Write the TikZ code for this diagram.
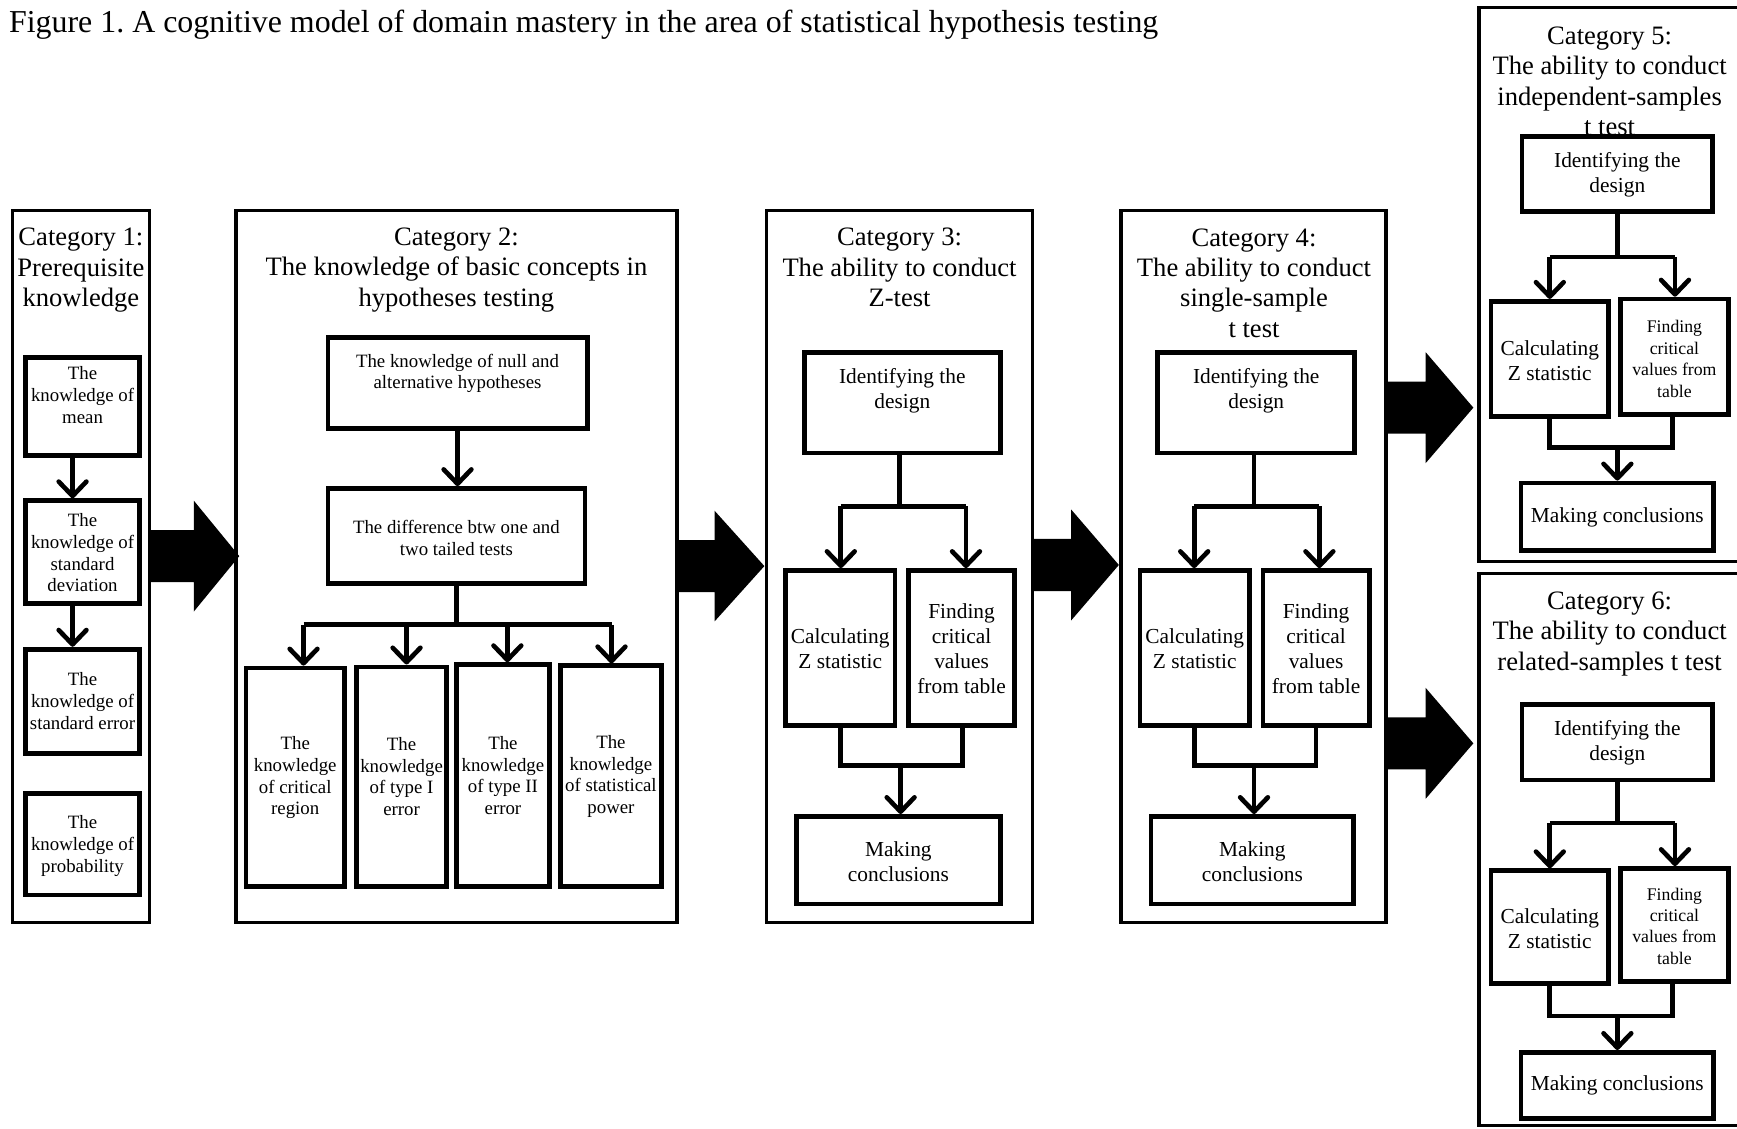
\documentclass[tikz,border=0pt]{standalone}
\usepackage{fontspec}
\setmainfont{Liberation Serif}
\usetikzlibrary{arrows.meta,calc}
\frenchspacing

\newcommand\fT{\fontsize{28.8}{32}\selectfont}
\newcommand\fH{\fontsize{24}{27.5}\selectfont}
\newcommand\fS{\fontsize{17}{19.6}\selectfont}
\newcommand\fM{\fontsize{19.3}{22.7}\selectfont}
\newcommand\fF{\fontsize{16}{19.3}\selectfont}

% outer box: name x1 y1 x2 y2
\newcommand\obox[5]{%
  \node[outbox, minimum width={(#4-#2)*1pt}, minimum height={(#5-#3)*1pt}] (#1) at ({(#2+#4)/2},{(#3+#5)/2}) {};}
% inner box: name x1 y1 x2 y2 texty font text
\newcommand\ibox[8]{%
  \node[inbox, minimum width={(#4-#2)*1pt}, minimum height={(#5-#3)*1pt}] (#1) at ({(#2+#4)/2},{(#3+#5)/2}) {};
  \node[txt, font=#7] (#1t) at ({(#2+#4)/2},{#6}) {#8};}
% block arrow: x0 xb xt yc
\newcommand\barr[4]{%
  \fill ({#1},{#4-23.5}) -- ({#2},{#4-23.5}) -- ({#2},{#4-50}) -- ({#3},{#4}) -- ({#2},{#4+50}) -- ({#2},{#4+23.5}) -- ({#1},{#4+23.5}) -- cycle;}

\begin{document}
\begin{tikzpicture}[x=1pt,y=-1pt,
  outbox/.style={draw, line width=3pt, inner sep=0pt, outer sep=0pt},
  inbox/.style={draw, line width=4.3pt, fill=white, inner sep=0pt},
  txt/.style={align=center, inner sep=0pt},
  conn/.style={line width=4.2pt},
  arr/.style={line width=4.2pt, -{Straight Barb[length=13pt,width=25pt,round]}},
]
\useasboundingbox (0,0) rectangle (1568,1019);
\fill[white] (0,0) rectangle (1568,1019);
\clip (0,0) rectangle (1568,1019);

% title
\node[inner sep=0pt, anchor=base west, font=\fT] (title) at (8,29) {Figure 1. A cognitive model of domain mastery in the area of statistical hypothesis testing};

% ---------- Category 1 ----------
\obox{c1}{11}{190}{135}{833}
\node[txt, font=\fH] (c1h) at (73,244) {Category 1:\\Prerequisite\\knowledge};
\ibox{m1}{23}{323}{126}{411}{356.5}{\fS}{The\\knowledge of\\mean}
\ibox{m2}{23}{452}{126}{545}{499}{\fS}{The\\knowledge of\\standard\\deviation}
\ibox{m3}{23}{586}{126}{680}{633}{\fS}{The\\knowledge of\\standard error}
\ibox{m4}{23}{716}{126}{808}{763.5}{\fS}{The\\knowledge of\\probability}
\draw[arr] ([xshift=-9pt]m1.south) -- ([xshift=-9pt]m2.north);
\draw[arr] ([xshift=-9pt]m2.south) -- ([xshift=-9pt]m3.north);

\barr{136}{175}{216}{502}

% ---------- Category 2 ----------
\obox{c2}{213}{190}{611}{833}
\node[txt, font=\fH] (c2h) at (412,243.5) {Category 2:\\The knowledge of basic concepts in\\hypotheses testing};
\ibox{n1}{296}{305}{530}{387}{337}{\fS}{The knowledge of null and\\alternative hypotheses}
\ibox{n2}{296}{441}{528}{527}{485.5}{\fS}{The difference btw one and\\two tailed tests}
\ibox{n3}{222}{603}{311}{800}{702}{\fS}{The\\knowledge\\of critical\\region}
\ibox{n4}{322}{602}{403}{800}{701}{\fS}{The\\knowledge\\of type I\\error}
\ibox{n5}{412}{600}{496}{800}{700}{\fS}{The\\knowledge\\of type II\\error}
\ibox{n6}{506}{601}{597}{800}{701}{\fS}{The\\knowledge\\of statistical\\power}
\draw[arr] (n1.south) -- (n1.south |- n2.north);
\coordinate (b2) at (412,564);
\coordinate (b2a) at (274,564);
\coordinate (b2b) at (367,564);
\coordinate (b2c) at (458,564);
\coordinate (b2d) at (552,564);
\draw[conn] (n2.south) -- (b2);
\draw[conn] (b2a) -- (b2d);
\draw[arr] (b2a) -- (b2a |- n3.north);
\draw[arr] (b2b) -- (b2b |- n4.north);
\draw[arr] (b2c) -- (b2c |- n5.north);
\draw[arr] (b2d) -- (b2d |- n6.north);

\barr{611}{645}{690}{511}

% ---------- Category 3 ----------
\obox{c3}{692}{190}{932}{833}
\node[txt, font=\fH] (c3h) at (812,241.5) {Category 3:\\The ability to conduct\\Z-test};
\ibox{i3}{726}{318}{903}{409}{352.5}{\fM}{Identifying the\\design}
\ibox{z3}{709}{515}{808}{655}{585.5}{\fM}{Calculating\\Z statistic}
\ibox{f3}{820}{515}{916}{655}{585.5}{\fM}{Finding\\critical\\values\\from table}
\ibox{k3}{719}{737}{903}{816}{777.5}{\fM}{Making\\conclusions}
\coordinate (s3a) at (759,457);
\coordinate (s3b) at (872,457);
\coordinate (s3) at (812,457);
\draw[conn] (s3 |- i3.south) -- (s3);
\draw[conn] (s3a) -- (s3b);
\draw[arr] (s3a) -- (s3a |- z3.north);
\draw[arr] (s3b) -- (s3b |- f3.north);
\coordinate (j3a) at (759,691);
\coordinate (j3b) at (869,691);
\coordinate (j3) at (813,691);
\draw[conn] (j3a |- z3.south) -- (j3a) -- (j3b) -- (j3b |- f3.south);
\draw[arr] (j3) -- (j3 |- k3.north);

\barr{932}{967}{1010}{510}

% ---------- Category 4 ----------
\obox{c4}{1012}{190}{1251}{833}
\node[txt, font=\fH] (c4h) at (1132,255.5) {Category 4:\\The ability to conduct\\single-sample\\t test};
\ibox{i4}{1045}{318}{1223}{409}{352.5}{\fM}{Identifying the\\design}
\ibox{z4}{1029}{515}{1128}{655}{585.5}{\fM}{Calculating\\Z statistic}
\ibox{f4}{1140}{515}{1236}{655}{585.5}{\fM}{Finding\\critical\\values\\from table}
\ibox{k4}{1039}{737}{1222}{816}{777.5}{\fM}{Making\\conclusions}
\coordinate (s4a) at (1078,457);
\coordinate (s4b) at (1191,457);
\coordinate (s4) at (1132,457);
\draw[conn] (s4 |- i4.south) -- (s4);
\draw[conn] (s4a) -- (s4b);
\draw[arr] (s4a) -- (s4a |- z4.north);
\draw[arr] (s4b) -- (s4b |- f4.north);
\coordinate (j4a) at (1078,691);
\coordinate (j4b) at (1188,691);
\coordinate (j4) at (1132,691);
\draw[conn] (j4a |- z4.south) -- (j4a) -- (j4b) -- (j4b |- f4.south);
\draw[arr] (j4) -- (j4 |- k4.north);

\barr{1253}{1287}{1330}{368}
\barr{1253}{1287}{1330}{671}

% ---------- Category 5 ----------
\obox{c5}{1335}{7}{1590}{507}
\node[txt, font=\fH] (c5h) at (1453,73.5) {Category 5:\\The ability to conduct\\independent-samples\\t test};
\ibox{i5}{1374}{123}{1546}{191}{158}{\fM}{Identifying the\\design}
\ibox{z5}{1346}{272}{1452}{376}{325.5}{\fM}{Calculating\\Z statistic}
\ibox{f5}{1463}{270}{1560}{374}{324}{\fF}{Finding\\critical\\values from\\table}
\ibox{k5}{1373}{436}{1547}{497}{467}{\fM}{Making conclusions}
\coordinate (s5a) at (1399,232);
\coordinate (s5b) at (1512,232);
\coordinate (s5) at (1460,232);
\draw[conn] (s5 |- i5.south) -- (s5);
\draw[conn] (s5a) -- (s5b);
\draw[arr] (s5a) -- (s5a |- z5.north);
\draw[arr] (s5b) -- (s5b |- f5.north);
\coordinate (j5a) at (1399,404);
\coordinate (j5b) at (1510,404);
\coordinate (j5) at (1460,404);
\draw[conn] (j5a |- z5.south) -- (j5a) -- (j5b) -- (j5b |- f5.south);
\draw[arr] (j5) -- (j5 |- k5.north);

% ---------- Category 6 ----------
\obox{c6}{1335}{518}{1590}{1016}
\node[txt, font=\fH] (c6h) at (1453,572) {Category 6:\\The ability to conduct\\related-samples t test};
\ibox{i6}{1374}{636}{1546}{704}{670.5}{\fM}{Identifying the\\design}
\ibox{z6}{1346}{786}{1452}{888}{838.5}{\fM}{Calculating\\Z statistic}
\ibox{f6}{1463}{784}{1560}{886}{836}{\fF}{Finding\\critical\\values from\\table}
\ibox{k6}{1373}{950}{1547}{1010}{980}{\fM}{Making conclusions}
\coordinate (s6a) at (1399,743);
\coordinate (s6b) at (1512,743);
\coordinate (s6) at (1460,743);
\draw[conn] (s6 |- i6.south) -- (s6);
\draw[conn] (s6a) -- (s6b);
\draw[arr] (s6a) -- (s6a |- z6.north);
\draw[arr] (s6b) -- (s6b |- f6.north);
\coordinate (j6a) at (1399,917);
\coordinate (j6b) at (1510,917);
\coordinate (j6) at (1460,917);
\draw[conn] (j6a |- z6.south) -- (j6a) -- (j6b) -- (j6b |- f6.south);
\draw[arr] (j6) -- (j6 |- k6.north);
\end{tikzpicture}
\end{document}
